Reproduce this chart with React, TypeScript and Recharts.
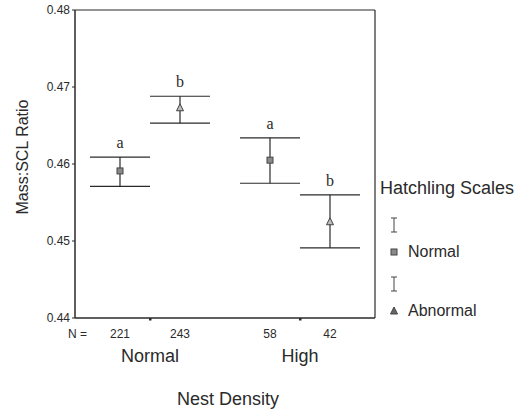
import React from 'react';
import { ComposedChart, Scatter, XAxis, YAxis, ErrorBar, ReferenceLine, Label } from 'recharts';

// ---- data ----
const densityGroups = ['Normal', 'High'];
const groupCenters = [1.5, 4];
const scaleTypes = ['Normal', 'Abnormal'];
const xPositions = [1, 2, 3.5, 4.5];
const densityOf = ['Normal', 'Normal', 'High', 'High'];
const scaleOf = ['Normal', 'Abnormal', 'Normal', 'Abnormal'];
const means = [0.4591, 0.4673, 0.4605, 0.4525];
const upperCI = [0.4609, 0.4688, 0.4634, 0.456];
const lowerCI = [0.4571, 0.4653, 0.4575, 0.4491];
const nCounts = [221, 243, 58, 42];
const sigLetters = ['a', 'b', 'a', 'b'];
const yTicks = [0.44, 0.45, 0.46, 0.47, 0.48];

const rows = xPositions.map((x, i) => ({
  x,
  density: densityOf[i],
  scale: scaleOf[i],
  mean: means[i],
  upper: upperCI[i],
  err: [means[i] - lowerCI[i], upperCI[i] - means[i]],
  letter: sigLetters[i],
  n: nCounts[i],
}));
const normalRows = rows.filter((r) => r.scale === scaleTypes[0]);
const abnormalRows = rows.filter((r) => r.scale === scaleTypes[1]);

const FONT = '"Liberation Sans", Arial, sans-serif';
const INK = '#2a2a2a';

const XTick = (props: any) => {
  const { x, y, payload } = props;
  const v = payload.value;
  const axisY = y - 8;
  const gi = groupCenters.indexOf(v);
  if (gi >= 0) {
    return (
      <g>
        <rect x={x - 1} y={axisY} width={2.5} height={2.5} fill={INK} />
        <text x={x} y={axisY + 44} textAnchor="middle" fontSize={18} fontFamily={FONT} fill={INK}>
          {densityGroups[gi]}
        </text>
      </g>
    );
  }
  const ni = xPositions.indexOf(v);
  if (ni >= 0) {
    return (
      <g>
        {ni === 0 && (
          <text x={68} y={axisY + 20} textAnchor="start" fontSize={12} fontFamily={FONT} fill={INK}>
            N =
          </text>
        )}
        <text x={x} y={axisY + 20} textAnchor="middle" fontSize={12} fontFamily={FONT} fill={INK}>
          {nCounts[ni]}
        </text>
      </g>
    );
  }
  return null;
};

const SquareShape = (props: any) => {
  const { cx, cy } = props;
  return <rect x={cx - 3} y={cy - 3} width={6} height={6} fill="#8a8a8a" stroke="#444" strokeWidth={1} />;
};
const TriangleShape = (props: any) => {
  const { cx, cy } = props;
  return (
    <polygon
      points={`${cx},${cy - 4} ${cx - 3.5},${cy + 3} ${cx + 3.5},${cy + 3}`}
      fill="#bdbdbd"
      stroke="#444"
      strokeWidth={1}
    />
  );
};
const LetterShape = (props: any) => {
  const { cx, cy, payload } = props;
  return (
    <text x={cx} y={cy - 9} textAnchor="middle" fontSize={16} fontFamily='"Liberation Serif", "Times New Roman", serif' fill={INK}>
      {payload.letter}
    </text>
  );
};

const ErrIcon = () => (
  <svg width={12} height={16} style={{ display: 'block' }}>
    <line x1={3} y1={1} x2={9} y2={1} stroke="#444" strokeWidth={1} />
    <line x1={6} y1={1} x2={6} y2={15} stroke="#444" strokeWidth={1} />
    <line x1={3} y1={15} x2={9} y2={15} stroke="#444" strokeWidth={1} />
  </svg>
);

const LegendBox = () => (
  <div style={{ position: 'absolute', left: 380, top: 177, width: 147, fontFamily: FONT, color: INK }}>
    <div style={{ fontSize: 18, lineHeight: '22px' }}>Hatchling Scales</div>
    {scaleTypes.map((s, i) => (
      <div key={s} style={{ marginTop: i === 0 ? 18 : 14 }}>
        <div style={{ marginLeft: 8, height: 16 }}>
          <ErrIcon />
        </div>
        <div style={{ display: 'flex', alignItems: 'center', marginTop: 9, height: 20 }}>
          <svg width={12} height={12} style={{ marginLeft: 8, display: 'block' }}>
            {i === 0 ? (
              <rect x={3} y={3} width={6} height={6} fill="#8a8a8a" stroke="#444" />
            ) : (
              <polygon points="6,2 2.5,9 9.5,9" fill="#666" stroke="#444" />
            )}
          </svg>
          <span style={{ fontSize: 16, marginLeft: 8 }}>{s}</span>
        </div>
      </div>
    ))}
  </div>
);

export default function App() {
  return (
    <div style={{ position: 'absolute', left: 0, top: 0, width: 527, height: 412, background: '#fff' }}>
      <ComposedChart width={527} height={412} margin={{ top: 10, right: 152, bottom: 0, left: 0 }}>
        <XAxis
          type="number"
          dataKey="x"
          domain={[0.25, 5.25]}
          ticks={[...xPositions, ...groupCenters].sort((a, b) => a - b)}
          tick={<XTick />}
          tickLine={false}
          axisLine={{ stroke: INK, strokeWidth: 1.5 }}
          height={94}
          interval={0}
        >
          <Label
            content={() => (
              <text x={228} y={405} textAnchor="middle" fontSize={18} fontFamily={FONT} fill={INK}>
                Nest Density
              </text>
            )}
          />
        </XAxis>
        <YAxis
          type="number"
          domain={[0.44, 0.48]}
          ticks={yTicks}
          tickFormatter={(v: number) => v.toFixed(2)}
          tick={{ fontSize: 12, fontFamily: FONT, fill: INK }}
          tickLine={{ stroke: INK }}
          tickSize={3}
          axisLine={{ stroke: INK, strokeWidth: 1.5 }}
          width={75}
        >
          <Label
            content={() => (
              <text
                x={28}
                y={157}
                textAnchor="middle"
                fontSize={16}
                fontFamily={FONT}
                fill={INK}
                transform="rotate(-90, 28, 157)"
              >
                Mass:SCL Ratio
              </text>
            )}
          />
        </YAxis>
        <ReferenceLine y={0.48} stroke={INK} strokeWidth={1.2} />
        <ReferenceLine x={5.25} stroke={INK} strokeWidth={1.2} />
        <Scatter name="Normal" data={normalRows} dataKey="mean" shape={<SquareShape />} isAnimationActive={false}>
          <ErrorBar dataKey="err" direction="y" width={30} stroke={INK} strokeWidth={1.2} isAnimationActive={false} />
        </Scatter>
        <Scatter name="Abnormal" data={abnormalRows} dataKey="mean" shape={<TriangleShape />} isAnimationActive={false}>
          <ErrorBar dataKey="err" direction="y" width={30} stroke={INK} strokeWidth={1.2} isAnimationActive={false} />
        </Scatter>
        <Scatter name="letters" data={rows} dataKey="upper" shape={<LetterShape />} isAnimationActive={false} legendType="none" />
      </ComposedChart>
      <LegendBox />
    </div>
  );
}
